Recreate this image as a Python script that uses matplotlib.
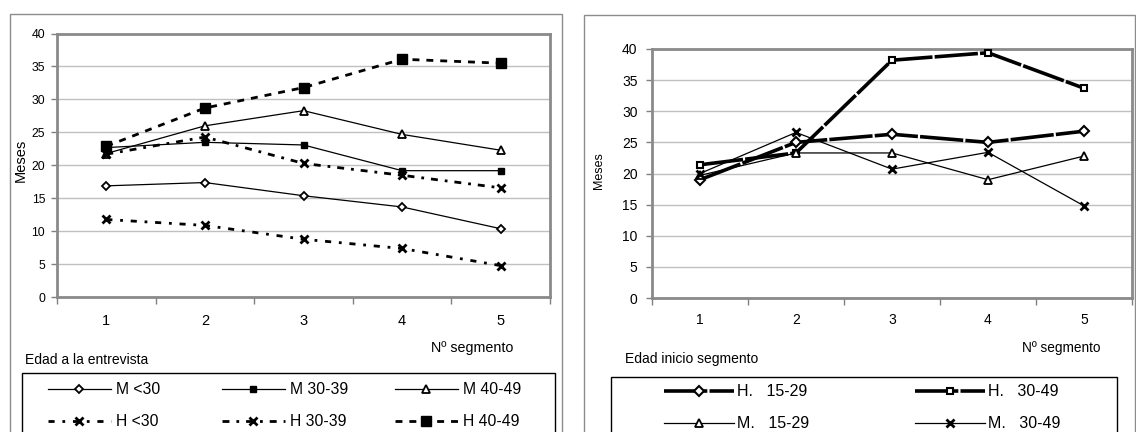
import numpy as np
import matplotlib
matplotlib.use("Agg")
import matplotlib.pyplot as plt
from matplotlib.patches import Rectangle

plt.rcParams['font.family'] = ['Liberation Sans', 'DejaVu Sans']

# ---------------- data ----------------
segments = [1, 2, 3, 4, 5]
seg_labels = ["1", "2", "3", "4", "5"]

# Left chart: "Edad a la entrevista"
left_names = ["M <30", "M 30-39", "M 40-49", "H <30", "H 30-39", "H 40-49"]
m_lt30 = [16.9, 17.4, 15.4, 13.7, 10.4]
m_30_39 = [22.7, 23.5, 23.1, 19.2, 19.2]
m_40_49 = [21.8, 26.0, 28.3, 24.7, 22.3]
h_lt30 = [11.8, 10.9, 8.8, 7.4, 4.8]
h_30_39 = [21.7, 24.3, 20.3, 18.5, 16.6]
h_40_49 = [22.9, 28.7, 31.8, 36.1, 35.5]

# Right chart: "Edad inicio segmento"
right_names = ["H.   15-29", "H.   30-49", "M.   15-29", "M.   30-49"]
h_15_29 = [19.0, 25.0, 26.3, 25.0, 26.8]
h_30_49 = [21.4, 23.3, 38.2, 39.4, 33.7]
m_15_29 = [19.7, 23.3, 23.3, 19.0, 22.8]
m_30_49 = [20.0, 26.6, 20.7, 23.4, 14.8]

# ---------------- layout helpers ----------------
W, H = 1136, 432
fig = plt.figure(figsize=(W / 100, H / 100), dpi=100)


def fx(px):
    return px / W


def fy(py):
    return 1 - py / H


FONT = ['Liberation Sans', 'DejaVu Sans']

# outer chart borders
for (x0, y0, x1) in [(10, 14, 562), (584, 15, 1135)]:
    fig.patches.append(Rectangle((fx(x0), fy(460)), fx(x1) - fx(x0), fy(y0) - fy(460),
                                 transform=fig.transFigure, fill=False,
                                 edgecolor='#8c8c8c', lw=1.0))
# legend boxes
for (x0, y0, x1) in [(22, 373, 555), (611, 377, 1117)]:
    fig.patches.append(Rectangle((fx(x0), fy(460)), fx(x1) - fx(x0), fy(y0) - fy(460),
                                 transform=fig.transFigure, fill=False,
                                 edgecolor='black', lw=1.0))


def style_axes(ax, yfs, ypad, xfs, xpad):
    ax.set_xlim(0.5, 5.5)
    ax.set_ylim(0, 40)
    ax.set_yticks(range(0, 41, 5))
    ax.set_xticks(segments)
    ax.set_xticklabels(seg_labels)
    ax.set_xticks(np.arange(0.5, 5.6, 1.0), minor=True)
    ax.tick_params(axis='x', which='major', length=0, pad=xpad, labelsize=xfs)
    ax.tick_params(axis='x', which='minor', length=5, color='#808080', width=1)
    ax.tick_params(axis='y', which='major', length=4, color='#808080', width=1,
                   pad=ypad, labelsize=yfs)
    ax.grid(axis='y', color='#c0c0c0', lw=1)
    ax.set_axisbelow(True)
    for s in ax.spines.values():
        s.set_color('#8a8a8a')
        s.set_linewidth(2)


common = dict(color='black', mec='black', zorder=3)

# ---------------- left chart ----------------
axL = fig.add_axes([fx(57), fy(297.3), fx(550) - fx(57), fy(33.5) - fy(297.3)])
style_axes(axL, 8.8, 4.5, 10.5, 12)

lL = []
lL.append(axL.plot(segments, m_lt30, lw=0.9, ls='-', marker='D', ms=4.5, mfc='white', mew=1.3, **common)[0])
lL.append(axL.plot(segments, m_30_39, lw=0.9, ls='-', marker='s', ms=4, mfc='black', mew=1, **common)[0])
lL.append(axL.plot(segments, m_40_49, lw=0.9, ls='-', marker='^', ms=6, mfc='white', mew=1.3, **common)[0])
lL.append(axL.plot(segments, h_lt30, lw=2, ls=(0, (2.2, 2.8, 1, 2.8)), marker='x', ms=6, mew=2, **common)[0])
lL.append(axL.plot(segments, h_30_39, lw=2, ls=(0, (2.5, 2.5, 1, 2.5)), marker='x', ms=6, mew=2, **common)[0])
lL.append(axL.plot(segments, h_40_49, lw=2, ls=(0, (2.5, 2.5)), marker='s', ms=7.5, mfc='black', mew=1, **common)[0])

fig.text(fx(21), fy(160), "Meses", rotation=90, ha='center', va='center', fontsize=10.5)
fig.text(fx(431), fy(348), "Nº segmento", ha='left', va='center', fontsize=10.3)
fig.text(fx(25), fy(360), "Edad a la entrevista", ha='left', va='center', fontsize=10)

col_x = [48, 222, 395]
row_y = [390, 422]
for i, (h, name) in enumerate(zip(lL, left_names)):
    r, c = divmod(i, 3)
    fig.legend(handles=[h], labels=[name], loc='center left',
               bbox_to_anchor=(fx(col_x[c]), fy(row_y[r])), frameon=False,
               borderpad=0, borderaxespad=0, handlelength=4.0, handletextpad=0.35,
               numpoints=1, prop={'family': FONT, 'size': 11.3})

# ---------------- right chart ----------------
axR = fig.add_axes([fx(652), fy(298), fx(1132) - fx(652), fy(49) - fy(298)])
style_axes(axR, 10, 6.5, 10, 10.5)

lR = []
thick_ls = (0, (12, 0.6))
lR.append(axR.plot(segments, h_15_29, lw=2.6, ls=thick_ls, marker='D', ms=5, mfc='white', mew=1.5, **common)[0])
lR.append(axR.plot(segments, h_30_49, lw=2.6, ls=thick_ls, marker='s', ms=5, mfc='white', mew=1.5, **common)[0])
lR.append(axR.plot(segments, m_15_29, lw=0.9, ls='-', marker='^', ms=6, mfc='white', mew=1.3, **common)[0])
lR.append(axR.plot(segments, m_30_49, lw=0.9, ls='-', marker='x', ms=6, mew=2, **common)[0])

fig.text(fx(599), fy(171), "Meses", rotation=90, ha='center', va='center', fontsize=9)
fig.text(fx(1101), fy(348), "Nº segmento", ha='right', va='center', fontsize=9.8)
fig.text(fx(625), fy(359), "Edad inicio segmento", ha='left', va='center', fontsize=10)

rcol_x = [664, 915]
rrow_y = [392, 424]
for i, (h, name) in enumerate(zip(lR, right_names)):
    r, c = divmod(i, 2)
    fig.legend(handles=[h], labels=[name], loc='center left',
               bbox_to_anchor=(fx(rcol_x[c]), fy(rrow_y[r])), frameon=False,
               borderpad=0, borderaxespad=0, handlelength=4.4, handletextpad=0.15,
               numpoints=1, prop={'family': FONT, 'size': 11.5})

fig.savefig("out.png", dpi=100)
